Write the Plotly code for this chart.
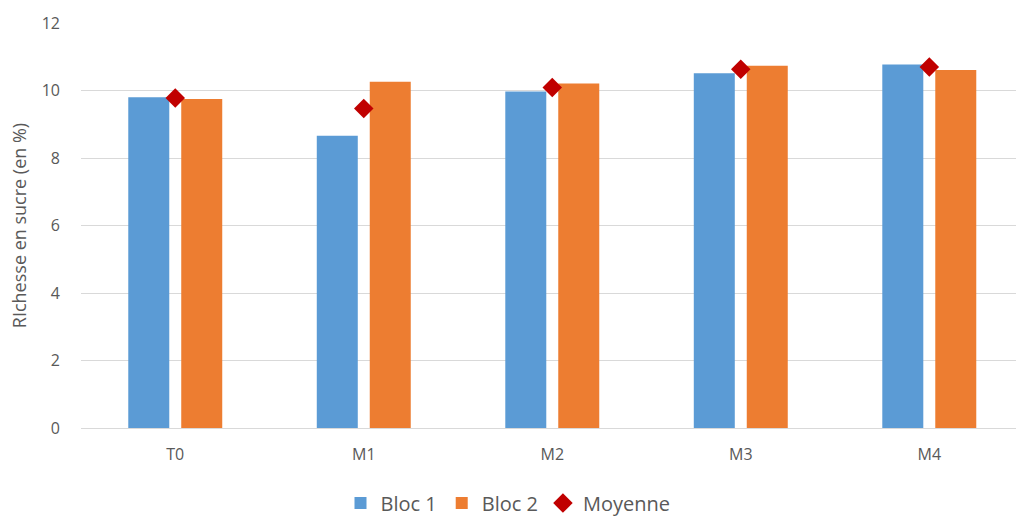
import plotly.graph_objects as go

# Sugar content per sampling date
categories = ["T0", "M1", "M2", "M3", "M4"]
bloc1 = [9.80, 8.66, 9.97, 10.51, 10.77]
bloc2 = [9.75, 10.26, 10.21, 10.73, 10.61]
moyenne = [9.78, 9.47, 10.09, 10.63, 10.70]
y_ticks = [0, 2, 4, 6, 8, 10, 12]

text_color = "#595959"
font_family = "Open Sans, Liberation Sans, sans-serif"

fig = go.Figure()
fig.add_trace(go.Bar(name="Bloc 1", x=categories, y=bloc1,
                     marker=dict(color="#5B9BD5", line=dict(width=0))))
fig.add_trace(go.Bar(name="Bloc 2", x=categories, y=bloc2,
                     marker=dict(color="#ED7D31", line=dict(width=0))))
fig.add_trace(go.Scatter(name="Moyenne", x=categories, y=moyenne, mode="markers",
                         marker=dict(symbol="diamond", size=15, color="#C00000",
                                     line=dict(width=0))))

fig.update_layout(
    width=1016, height=516,
    margin=dict(l=81, r=0, t=23, b=88),
    paper_bgcolor="white", plot_bgcolor="white",
    barmode="group", bargap=0.438, bargroupgap=0.226,
    font=dict(family=font_family, color=text_color, size=15),
    showlegend=True,
    legend=dict(orientation="h", xref="container", yref="container",
                x=0.5, xanchor="center", y=0.025, yanchor="middle",
                font=dict(size=20, color=text_color),
                itemwidth=30, tracegroupgap=0),
    xaxis=dict(type="category", range=[-0.5, 4.46], showgrid=False,
               showline=True, linecolor="#D9D9D9", linewidth=1,
               ticks="", ticklabelstandoff=12,
               tickfont=dict(size=16, color=text_color)),
    yaxis=dict(range=[0, 12], tickvals=y_ticks, showgrid=True,
               gridcolor="#D9D9D9", gridwidth=1, zeroline=False,
               showline=False, ticks="", ticklabelstandoff=20,
               tickfont=dict(size=16, color=text_color),
               title=dict(text="RIchesse en sucre (en %)", standoff=10,
                          font=dict(size=18, color=text_color))),
)

fig.write_html("out.html")
